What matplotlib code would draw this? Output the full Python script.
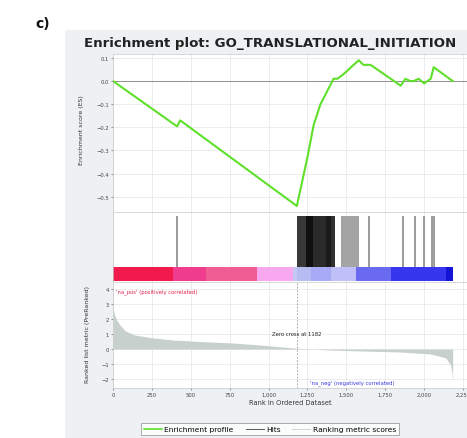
import numpy as np
import matplotlib
matplotlib.use("Agg")
import matplotlib.pyplot as plt
from matplotlib.lines import Line2D
from matplotlib.patches import Rectangle
from matplotlib.ticker import FuncFormatter

# Enrichment score profile (rank, ES)
es_rank = [0, 412, 432, 1182, 1250, 1290, 1334, 1380, 1418, 1443, 1482, 1580, 1610, 1656,
           1850, 1880, 1910, 1933, 1965, 2000, 2043, 2062, 2184]
es_value = [0.0, -0.196, -0.17, -0.54, -0.33, -0.19, -0.10, -0.04, 0.01, 0.01, 0.03, 0.09,
            0.07, 0.07, -0.02, 0.01, 0.0, 0.0, 0.01, -0.01, 0.01, 0.06, 0.0]

# single hits and dense hit blocks (start, end, shade)
hit_ranks = [411, 1645, 1864, 1941, 1999, 2050, 2063]
hit_blocks = [(1186, 1240, '#383838'), (1240, 1285, '#101010'), (1285, 1370, '#2a2a2a'),
              (1370, 1400, '#1a1a1a'), (1400, 1430, '#303030'), (1463, 1580, '#a4a4a4')]

# colour bar of the ranked list
cbar_edges = [0, 387, 600, 928, 1160, 1186, 1270, 1400, 1560, 1785, 2140, 2184]
cbar_colors = ['#f01a4c', '#f03c8c', '#f05c94', '#f8a8ee', '#c4c8f4', '#b4bcf2',
               '#a8aaf8', '#c0c0f8', '#6a6af0', '#3636ee', '#1414d6']

# ranked list metric (rank, value)
metric_rank = [0, 10, 25, 45, 80, 142, 250, 387, 600, 773, 1000, 1160, 1400, 1600,
               1850, 2043, 2140, 2170, 2180, 2184]
metric_value = [2.7, 2.3, 1.9, 1.6, 1.2, 0.93, 0.75, 0.6, 0.48, 0.4, 0.22, 0.07, -0.07,
                -0.13, -0.2, -0.33, -0.6, -1.07, -1.6, -2.1]

zero_cross = 1182
x_ticks = [0, 250, 500, 750, 1000, 1250, 1500, 1750, 2000, 2250]
W, H = 467, 439
x_max = 2276

fig = plt.figure(figsize=(W / 100, H / 100), dpi=100)
fig.patch.set_facecolor('white')
fig.add_artist(Rectangle((65 / W, 0), 1, 1 - 31 / H, transform=fig.transFigure,
                         facecolor='#eef1f4', edgecolor='none', zorder=-10))

def box(top, bottom, left=113, right=467):
    return [left / W, 1 - bottom / H, (right - left) / W, (bottom - top) / H]

tick_kw = dict(labelsize=3.8, colors='#444444', length=1.5, width=0.4, pad=1.5)
grid_col = '#e4e4e4'

# --- Enrichment score panel
ax1 = fig.add_axes(box(55, 213))
ax1.plot(es_rank, es_value, color='#5fe02a', lw=1.5, zorder=3)
ax1.axhline(0, color='#909090', lw=0.7, zorder=2)
ax1.set_xlim(0, x_max)
ax1.set_ylim(-0.566, 0.117)
ax1.set_yticks([0.1, 0.0, -0.1, -0.2, -0.3, -0.4, -0.5])
ax1.set_xticks(x_ticks)
ax1.tick_params(axis='x', labelbottom=False, length=0)
ax1.tick_params(axis='y', **tick_kw)
ax1.grid(True, color=grid_col, lw=0.5)
ax1.set_axisbelow(True)
for s in ax1.spines.values():
    s.set_color('#c8c8c8')
    s.set_linewidth(0.5)
fig.text(82 / W, 1 - 130 / H, 'Enrichment score (ES)', rotation=90, ha='center',
         va='center', fontsize=4.5, color='#333333')

# --- Hits + colour bar panel
ax2 = fig.add_axes(box(213, 283))
ax2.set_xlim(0, x_max)
ax2.set_ylim(0, 70)
for start, end, shade in hit_blocks:
    ax2.fill_between([start, end], 15, 66, color=shade, lw=0)
ax2.vlines(hit_ranks, 15, 66, color='#8a8a8a', lw=1.2)
for i, c in enumerate(cbar_colors):
    ax2.fill_between([cbar_edges[i], cbar_edges[i + 1]], 1, 15, color=c, lw=0)
ax2.set_xticks(x_ticks)
ax2.set_yticks([])
ax2.tick_params(axis='x', labelbottom=False, length=0)
ax2.grid(True, axis='x', color=grid_col, lw=0.5)
ax2.set_axisbelow(True)
for s in ax2.spines.values():
    s.set_color('#c8c8c8')
    s.set_linewidth(0.5)

# --- Ranked list metric panel
ax3 = fig.add_axes(box(283, 389))
ax3.fill_between(metric_rank, metric_value, 0, color='#c7d0cc', lw=0)
ax3.axvline(zero_cross, color='#999999', lw=0.6, ls=(0, (2, 2)))
ax3.set_xlim(0, x_max)
ax3.set_ylim(-2.6, 4.47)
ax3.set_yticks([4, 3, 2, 1, 0, -1, -2])
ax3.set_xticks(x_ticks)
ax3.xaxis.set_major_formatter(FuncFormatter(lambda v, p: f'{int(v):,}'))
ax3.tick_params(**tick_kw)
ax3.grid(True, color=grid_col, lw=0.5)
ax3.set_axisbelow(True)
for s in ax3.spines.values():
    s.set_color('#c8c8c8')
    s.set_linewidth(0.5)
ax3.text(20, 3.85, "'na_pos' (positively correlated)", color='#e0204a', fontsize=3.8,
         va='center')
ax3.text(zero_cross, 1.05, 'Zero cross at ' + str(zero_cross), color='#222222',
         fontsize=3.8, ha='center', va='center')
ax3.text(1540, -2.2, "'na_neg' (negatively correlated)", color='#3a3ae0', fontsize=3.8,
         ha='center', va='center')
ax3.set_xlabel('Rank in Ordered Dataset', fontsize=4.8, color='#333333', labelpad=1.5)
fig.text(88 / W, 1 - 335 / H, 'Ranked list metric (PreRanked)', rotation=90,
         ha='center', va='center', fontsize=4.5, color='#333333')

fig.text(270 / W, 1 - 44 / H, 'Enrichment plot: GO_TRANSLATIONAL_INITIATION',
         ha='center', va='center', fontsize=9.6, fontweight='bold', color='#222222')
fig.text(35 / W, 1 - 24 / H, 'c)', ha='left', va='center', fontsize=10,
         fontweight='bold', color='#111111')

handles = [Line2D([], [], color='#5fe02a', lw=1.2),
           Line2D([], [], color='#555555', lw=0.7),
           Line2D([], [], color='#d4d4d4', lw=0.7)]
labels = ['Enrichment profile', 'Hits', 'Ranking metric scores']
leg = fig.legend(handles, labels, loc='center', bbox_to_anchor=(270 / W, 1 - 430 / H),
                 ncol=3, fontsize=5.4, frameon=True, fancybox=False, handlelength=2.4,
                 columnspacing=1.6, handletextpad=0.3, borderpad=0.35)
leg.get_frame().set_edgecolor('#888888')
leg.get_frame().set_linewidth(0.6)
leg.get_frame().set_facecolor('white')

fig.savefig('out.png', dpi=100)
